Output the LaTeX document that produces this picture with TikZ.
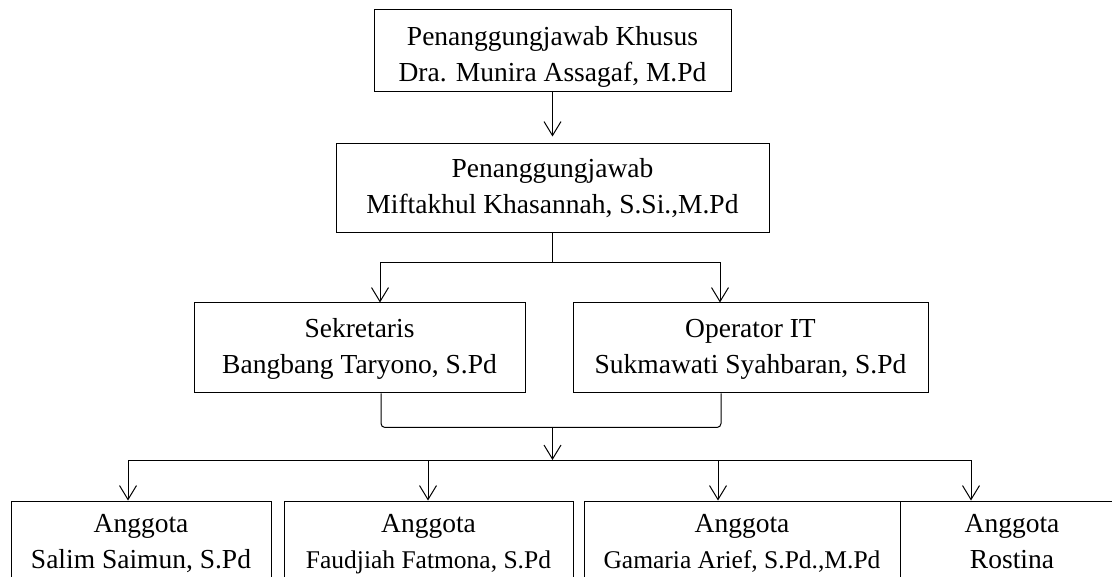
\documentclass[tikz,border=0pt]{standalone}
\usepackage{fontspec}
\setmainfont{Liberation Serif}
\usepackage{tikz}
\usetikzlibrary{arrows.meta, positioning, calc}
\tikzset{
    box/.style={draw, line width=1pt, align=center, inner sep=0pt,
        font=\fontsize{27.5}{36}\selectfont},
    arr/.style={line width=1pt, -{Straight Barb[length=14pt, width=17pt]}},
    line/.style={line width=1pt}
}
\newcommand{\namesmall}{\fontsize{25.5}{36}\selectfont}
\newcommand{\TwoLines}[2]{\strut #1\\#2\strut}

\begin{document}
\begin{tikzpicture}[x=1pt, y=-1pt]
        \clip (0,0) rectangle (1112,577);
        % Level 1
        \node[box, minimum width=357pt, minimum height=82pt] (top) at (552.5,51) {\rule{0pt}{35.2pt}Penanggungjawab Khusus\\Dra. Munira Assagaf, M.Pd\strut};
        % Level 2
        \node[box, minimum width=433pt, minimum height=89pt] (pj) at (552.5,188.5) {\TwoLines{Penanggungjawab}{Miftakhul Khasannah, S.Si.,M.Pd}};
        % Level 3
        \node[box, minimum width=331pt, minimum height=90pt] (sek) at (359.5,348) {\TwoLines{Sekretaris}{Bangbang Taryono, S.Pd}};
        \node[box, minimum width=355pt, minimum height=90pt] (op) at (750.5,348) {\TwoLines{Operator IT}{Sukmawati Syahbaran, S.Pd}};
        % Members
        \node[box, minimum width=260pt, minimum height=85pt] (ag1) at (141,543.5) {\TwoLines{Anggota}{Salim Saimun, S.Pd}};
        \node[box, minimum width=289pt, minimum height=85pt] (ag2) at (428.5,543.5) {\TwoLines{Anggota}{\namesmall Faudjiah Fatmona, S.Pd}};
        \node[box, minimum width=316pt, minimum height=85pt] (ag3) at (742,543.5) {\TwoLines{Anggota}{\namesmall Gamaria Arief, S.Pd.,M.Pd}};
        \node[box, minimum width=224pt, minimum height=85pt] (ag4) at (1012,543.5) {\TwoLines{Anggota}{Rostina}};

        % Connectors
        \draw[arr, shorten >=7pt] (top.south) -- (pj.north);
        \draw[arr] (pj.south) -- ++(0,29) -| ([xshift=20.5pt]sek.north);
        \draw[arr] (pj.south) -- ++(0,29) -| ([xshift=-30.5pt]op.north);
        \draw[line, rounded corners=4pt] ([xshift=21.5pt]sek.south) -- ++(0,34) -| ([xshift=-29.5pt]op.south);
        \coordinate (join) at (552.5,427);
        \coordinate (bus) at (552.5,460);
        \draw[arr] (join) -- (bus);
        \draw[arr] (bus) -| ([xshift=-13pt]ag1.north);
        \draw[arr] (bus) -| ([xshift=-0.5pt]ag2.north);
        \draw[arr] (bus) -| ([xshift=-24pt]ag3.north);
        \draw[arr] (bus) -| ([xshift=-41pt]ag4.north);
    \end{tikzpicture}
\end{document}
